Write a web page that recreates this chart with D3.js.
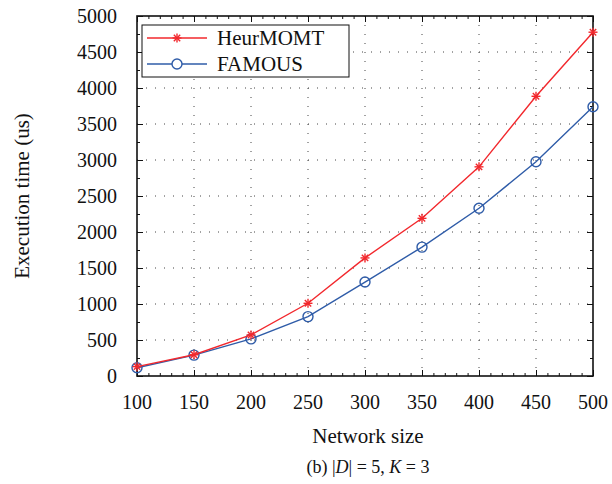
<!doctype html>
<html>
<head>
<style>
  body { margin: 0; background: #fff; }
  text { font-family: "Liberation Serif", "Times New Roman", serif; fill: #111; }
</style>
<script src="https://cdn.jsdelivr.net/npm/d3@7"></script>
</head>
<body>
<svg width="612" height="484"></svg>
<script>
// data
var sizes = [100, 150, 200, 250, 300, 350, 400, 450, 500];
var heurMOMT = [130, 295, 570, 1010, 1640, 2190, 2905, 3885, 4775];
var famous = [115, 290, 515, 825, 1305, 1790, 2330, 2975, 3740];
var seriesNames = ["HeurMOMT", "FAMOUS"];
var xTicks = [100, 150, 200, 250, 300, 350, 400, 450, 500];
var yTicks = [0, 500, 1000, 1500, 2000, 2500, 3000, 3500, 4000, 4500, 5000];

var svg = d3.select("svg");
var pLeft = 137, pRight = 593, pTop = 16, pBottom = 376;

var x = d3.scaleLinear().domain([100, 500]).range([pLeft, pRight]);
var y = d3.scaleLinear().domain([0, 5000]).range([pBottom, pTop]);

// dotted grid
var grid = svg.append("g").attr("stroke", "#444").attr("stroke-width", 1)
    .attr("stroke-dasharray", "1,8");
grid.selectAll(".vg").data(xTicks.slice(1, -1)).enter().append("line")
    .attr("x1", d => x(d)).attr("x2", d => x(d))
    .attr("y1", pTop).attr("y2", pBottom);
grid.selectAll(".hg").data(yTicks.slice(1, -1)).enter().append("line")
    .attr("x1", pLeft).attr("x2", pRight)
    .attr("y1", d => y(d)).attr("y2", d => y(d));

// axes with inward ticks on every side
var xMinor = d3.range(100, 501, 10);
var yMinor = d3.range(0, 5001, 250);
function ticks(g, axis, values, size) {
  g.call(axis.tickValues(values).tickSize(size).tickFormat(""))
   .call(a => a.select(".domain").remove());
  g.selectAll("line").attr("stroke", "#111").attr("stroke-width", 1);
}
svg.append("g").attr("transform", "translate(0," + pBottom + ")").call(ticks, d3.axisTop(x), xMinor, 3);
svg.append("g").attr("transform", "translate(0," + pBottom + ")").call(ticks, d3.axisTop(x), xTicks, 6);
svg.append("g").attr("transform", "translate(0," + pTop + ")").call(ticks, d3.axisBottom(x), xMinor, 3);
svg.append("g").attr("transform", "translate(0," + pTop + ")").call(ticks, d3.axisBottom(x), xTicks, 6);
svg.append("g").attr("transform", "translate(" + pLeft + ",0)").call(ticks, d3.axisRight(y), yMinor, 3);
svg.append("g").attr("transform", "translate(" + pLeft + ",0)").call(ticks, d3.axisRight(y), yTicks, 6);
svg.append("g").attr("transform", "translate(" + pRight + ",0)").call(ticks, d3.axisLeft(y), yMinor, 3);
svg.append("g").attr("transform", "translate(" + pRight + ",0)").call(ticks, d3.axisLeft(y), yTicks, 6);

svg.append("rect").attr("x", pLeft).attr("y", pTop)
   .attr("width", pRight - pLeft).attr("height", pBottom - pTop)
   .attr("fill", "none").attr("stroke", "#111").attr("stroke-width", 1.6);

// tick labels
svg.selectAll(".xl").data(xTicks).enter().append("text")
   .attr("x", d => x(d)).attr("y", 409).attr("text-anchor", "middle")
   .attr("font-size", 20).text(d => d);
svg.selectAll(".yl").data(yTicks).enter().append("text")
   .attr("x", 117).attr("y", d => y(d) + 7).attr("text-anchor", "end")
   .attr("font-size", 20).text(d => d);

// axis titles
svg.append("text").attr("x", 368).attr("y", 443).attr("text-anchor", "middle")
   .attr("font-size", 21).text("Network size");
svg.append("text").attr("transform", "translate(29," + ((pTop + pBottom) / 2) + ") rotate(-90)")
   .attr("text-anchor", "middle").attr("font-size", 21).text("Execution time (us)");

var cap = svg.append("text").attr("x", 368).attr("y", 473).attr("text-anchor", "middle")
   .attr("font-size", 18);
cap.append("tspan").text("(b) |");
cap.append("tspan").attr("font-style", "italic").text("D");
cap.append("tspan").text("| = 5, ");
cap.append("tspan").attr("font-style", "italic").text("K");
cap.append("tspan").text(" = 3");

// series
var red = "#f2282d", blue = "#2f5ca8";
var line = d3.line().x(d => x(d[0])).y(d => y(d[1]));
var heurPts = sizes.map((s, i) => [s, heurMOMT[i]]);
var famPts = sizes.map((s, i) => [s, famous[i]]);

function star(g, cx, cy, r, color) {
  [0, 45, 90, 135].forEach(function(a) {
    var rad = a * Math.PI / 180;
    g.append("line")
     .attr("x1", cx - r * Math.cos(rad)).attr("y1", cy - r * Math.sin(rad))
     .attr("x2", cx + r * Math.cos(rad)).attr("y2", cy + r * Math.sin(rad))
     .attr("stroke", color).attr("stroke-width", 1.4);
  });
}

svg.append("path").datum(famPts).attr("d", line)
   .attr("fill", "none").attr("stroke", blue).attr("stroke-width", 1.4);
svg.selectAll(".fm").data(famPts).enter().append("circle")
   .attr("cx", d => x(d[0])).attr("cy", d => y(d[1])).attr("r", 5)
   .attr("fill", "none").attr("stroke", blue).attr("stroke-width", 1.4);

svg.append("path").datum(heurPts).attr("d", line)
   .attr("fill", "none").attr("stroke", red).attr("stroke-width", 1.4);
var hm = svg.append("g");
heurPts.forEach(d => star(hm, x(d[0]), y(d[1]), 4.5, red));

// legend
var lg = svg.append("g");
lg.append("rect").attr("x", 142).attr("y", 25).attr("width", 207).attr("height", 52)
  .attr("fill", "#fff").attr("stroke", "#111").attr("stroke-width", 1);
var colors = [red, blue];
seriesNames.forEach(function(name, i) {
  var ly = 38 + i * 26;
  lg.append("line").attr("x1", 147).attr("x2", 207).attr("y1", ly).attr("y2", ly)
    .attr("stroke", colors[i]).attr("stroke-width", 1.4);
  if (i === 0) star(lg, 177, ly, 4.5, red);
  else lg.append("circle").attr("cx", 177).attr("cy", ly).attr("r", 5)
         .attr("fill", "#fff").attr("stroke", blue).attr("stroke-width", 1.4);
  lg.append("text").attr("x", 217).attr("y", ly + 7).attr("font-size", 21).text(name);
});
</script>
</body>
</html>
